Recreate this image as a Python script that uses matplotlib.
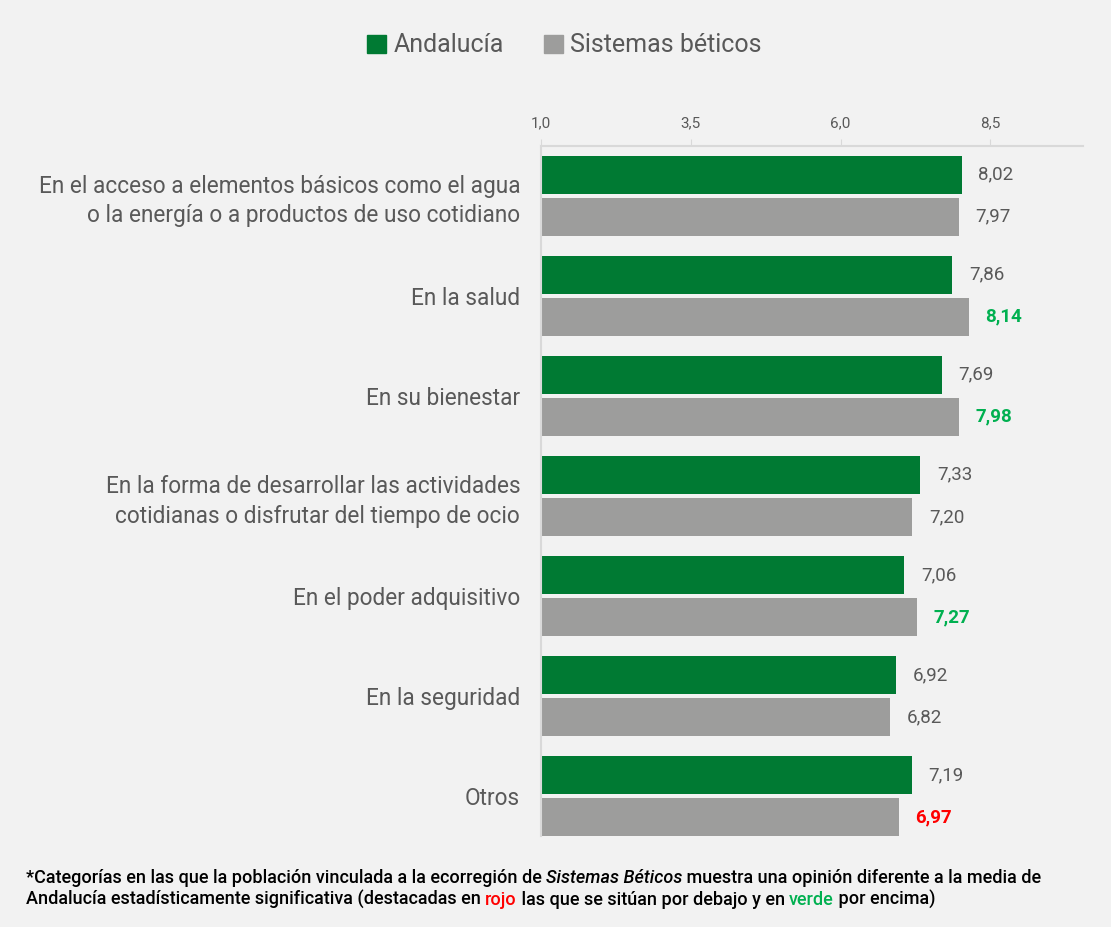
import matplotlib
matplotlib.use("Agg")
import matplotlib.pyplot as plt
from matplotlib.patches import Patch

plt.rcParams["font.family"] = ["Roboto", "DejaVu Sans"]

categories = [
    "En el acceso a elementos básicos como el agua\no la energía o a productos de uso cotidiano",
    "En la salud",
    "En su bienestar",
    "En la forma de desarrollar las actividades\ncotidianas o disfrutar del tiempo de ocio",
    "En el poder adquisitivo",
    "En la seguridad",
    "Otros",
]
andalucia = [8.02, 7.86, 7.69, 7.33, 7.06, 6.92, 7.19]
beticos = [7.97, 8.14, 7.98, 7.20, 7.27, 6.82, 6.97]
# significance of Sistemas Béticos vs Andalucía: 1 above, -1 below, 0 none
beticos_sig = [0, 1, 1, 0, 1, 0, -1]
xticks = [1.0, 3.5, 6.0, 8.5]

GREEN = "#007A33"
GRAY = "#9D9D9C"
BG = "#F2F2F2"
TXT = "#595959"
SIG_COLORS = {0: TXT, 1: "#00B050", -1: "#FF0000"}

fig = plt.figure(figsize=(11.11, 9.27), dpi=100, facecolor=BG)
ax = fig.add_axes([0.487, 0.098, 0.488, 0.745])
ax.set_facecolor(BG)

y = list(range(len(categories)))
h = 0.38
off = 0.21
ax.barh([v - off for v in y], [a - 1 for a in andalucia], left=1, height=h, color=GREEN)
ax.barh([v + off for v in y], [b - 1 for b in beticos], left=1, height=h, color=GRAY)

for i in y:
    ax.text(andalucia[i] + 0.28, i - off, f"{andalucia[i]:.2f}".replace(".", ","),
            va="center", ha="left", fontsize=13.5, color=TXT)
    ax.text(beticos[i] + 0.28, i + off, f"{beticos[i]:.2f}".replace(".", ","),
            va="center", ha="left", fontsize=13.5, color=SIG_COLORS[beticos_sig[i]],
            fontweight="bold" if beticos_sig[i] else "normal")

ax.set_xlim(1, 10.05)
ax.set_ylim(6.4, -0.5)
ax.xaxis.tick_top()
ax.set_xticks(xticks)
ax.set_xticklabels([f"{t:.1f}".replace(".", ",") for t in xticks], fontsize=11, color=TXT)
ax.tick_params(axis="x", length=5, color="#D9D9D9", pad=6)
ax.set_yticks(y)
ax.set_yticklabels(categories, fontsize=16.3, color=TXT, linespacing=1.35)
ax.tick_params(axis="y", length=0, pad=15)
for s in ["right", "bottom"]:
    ax.spines[s].set_visible(False)
ax.spines["top"].set_color("#D9D9D9")
ax.spines["left"].set_color("#D9D9D9")
ax.spines["top"].set_linewidth(1.5)
ax.spines["left"].set_linewidth(1.5)

handles = [Patch(color=GREEN, label="Andalucía"), Patch(color=GRAY, label="Sistemas béticos")]
leg = fig.legend(handles=handles, loc="center", bbox_to_anchor=(0.508, 0.951), ncol=2,
                 frameon=False, fontsize=18, handlelength=0.75, handleheight=0.75,
                 handletextpad=0.3, columnspacing=1.6)
for t in leg.get_texts():
    t.set_color(TXT)

# footnote with coloured/italic fragments
def write_line(parts, x, ypos):
    fig.canvas.draw()
    r = fig.canvas.get_renderer()
    for text, kw in parts:
        opts = {"fontsize": 13, "color": "black", "va": "baseline", "fontweight": "medium"}
        opts.update(kw)
        t = fig.text(x, ypos, text, **opts)
        bb = t.get_window_extent(renderer=r)
        x += bb.width / fig.bbox.width

write_line([
    ("*Categorías en las que la población vinculada a la ecorregión de ", {}),
    ("Sistemas Béticos", {"style": "italic"}),
    (" muestra una opinión diferente a la media de", {}),
], 0.023, 0.0475)
write_line([
    ("Andalucía estadísticamente significativa (destacadas en ", {}),
    ("rojo", {"color": "#FF0000"}),
    (" las que se sitúan por debajo y en ", {}),
    ("verde", {"color": "#00B050"}),
    (" por encima)", {}),
], 0.023, 0.0235)

fig.savefig("out.png", dpi=100, facecolor=BG)
